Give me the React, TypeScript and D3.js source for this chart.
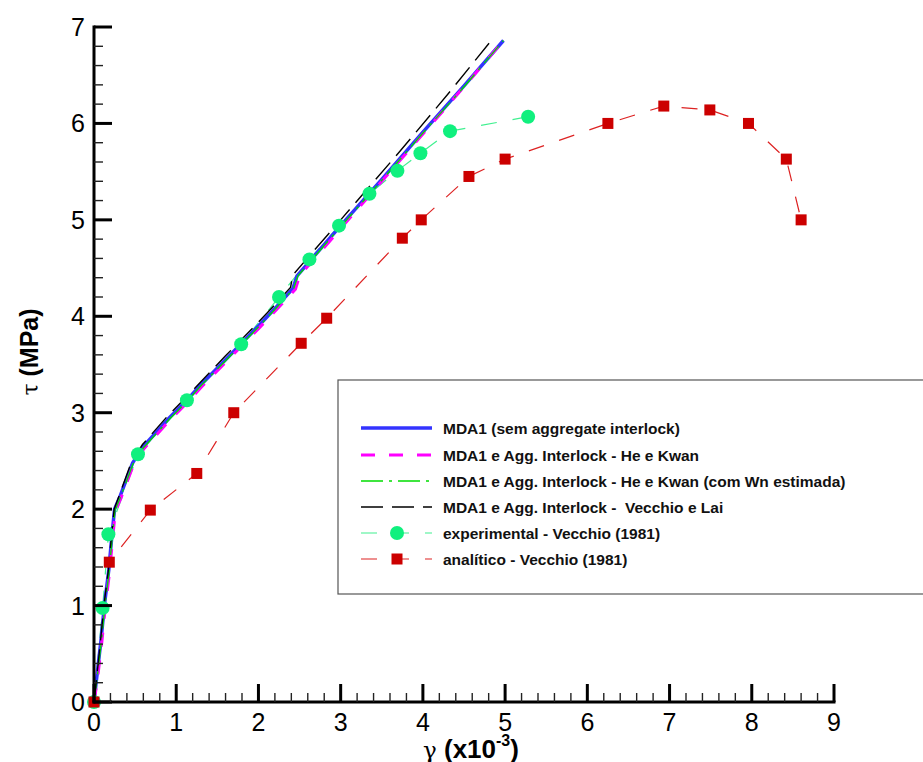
import React from "react";
import * as d3 from "d3";

// MDA1 (sem aggregate interlock)
const mdaX = [0, 0.03, 0.085, 0.13, 0.18, 0.215, 0.25, 0.32, 0.47, 0.6, 0.92, 1.13, 1.3, 1.6, 2.0, 2.2, 2.42, 2.47, 3.0, 3.5, 4.0, 4.5, 4.98];
const mdaY = [0, 0.23, 0.64, 1.03, 1.37, 1.7, 2.0, 2.14, 2.48, 2.65, 2.95, 3.13, 3.29, 3.55, 3.9, 4.08, 4.29, 4.42, 4.94, 5.42, 5.91, 6.39, 6.86];
// MDA1 e Agg. Interlock - He e Kwan
const hkX = [0, 0.04, 0.095, 0.14, 0.19, 0.225, 0.26, 0.33, 0.48, 0.61, 0.93, 1.14, 1.31, 1.61, 2.01, 2.21, 2.45, 2.5, 3.0, 3.5, 4.0, 4.5, 4.98];
const hkY = [0, 0.22, 0.62, 1.0, 1.35, 1.68, 1.98, 2.12, 2.46, 2.63, 2.93, 3.11, 3.27, 3.53, 3.88, 4.06, 4.28, 4.42, 4.91, 5.4, 5.89, 6.38, 6.86];
// MDA1 e Agg. Interlock - He e Kwan (com Wn estimada)
const hkwX = [0, 0.035, 0.09, 0.135, 0.185, 0.22, 0.255, 0.325, 0.475, 0.605, 0.925, 1.135, 1.3, 1.6, 2.0, 2.2, 2.43, 2.48, 3.0, 3.5, 4.0, 4.5, 4.98];
const hkwY = [0, 0.23, 0.63, 1.02, 1.36, 1.69, 1.99, 2.13, 2.47, 2.64, 2.94, 3.12, 3.28, 3.54, 3.89, 4.07, 4.29, 4.42, 4.93, 5.41, 5.9, 6.38, 6.86];
// MDA1 e Agg. Interlock - Vecchio e Lai
const vlX = [0, 0.03, 0.08, 0.125, 0.175, 0.21, 0.245, 0.31, 0.46, 0.59, 0.9, 1.12, 1.3, 1.6, 2.0, 2.2, 2.39, 2.42, 3.0, 3.7, 4.3, 4.87];
const vlY = [0, 0.23, 0.64, 1.03, 1.37, 1.7, 2.0, 2.15, 2.5, 2.67, 2.97, 3.16, 3.32, 3.59, 3.94, 4.12, 4.3, 4.43, 5.0, 5.69, 6.3, 6.9];
// experimental - Vecchio (1981)
const expX = [0, 0.105, 0.175, 0.535, 1.13, 1.79, 2.25, 2.62, 2.98, 3.35, 3.69, 3.97, 4.33, 5.28];
const expY = [0, 0.975, 1.74, 2.57, 3.13, 3.71, 4.2, 4.59, 4.94, 5.27, 5.51, 5.69, 5.92, 6.07];
// analítico - Vecchio (1981)
const anX = [0, 0.186, 0.685, 1.25, 1.7, 2.52, 2.83, 3.75, 3.98, 4.56, 5.0, 6.25, 6.93, 7.49, 7.96, 8.42, 8.6];
const anY = [0, 1.45, 1.99, 2.37, 3.0, 3.72, 3.98, 4.81, 5.0, 5.45, 5.63, 6.0, 6.18, 6.14, 6.0, 5.63, 5.0];

const xTicks = [0, 1, 2, 3, 4, 5, 6, 7, 8, 9];
const yTicks = [0, 1, 2, 3, 4, 5, 6, 7];
const legendLabels = [
  "MDA1 (sem aggregate interlock)",
  "MDA1 e Agg. Interlock - He e Kwan",
  "MDA1 e Agg. Interlock - He e Kwan (com Wn estimada)",
  "MDA1 e Agg. Interlock -  Vecchio e Lai",
  "experimental - Vecchio (1981)",
  "analítico - Vecchio (1981)",
];

const FONT = "'Liberation Sans', Arial, sans-serif";

export default function App() {
  const x = d3.scaleLinear().domain([0, 9]).range([94, 834]);
  const y = d3.scaleLinear().domain([0, 7]).range([702, 27]);
  const line = d3
    .line<[number, number]>()
    .x((d) => x(d[0]))
    .y((d) => y(d[1]));
  const pts = (xs: number[], ys: number[]) => xs.map((v, i) => [v, ys[i]] as [number, number]);

  const xMinor = d3.range(0, 9.001, 0.2).filter((v) => Math.abs(v - Math.round(v)) > 0.01);
  const yMinor = d3.range(0, 7.001, 0.2).filter((v) => Math.abs(v - Math.round(v)) > 0.01);

  const styles = [
    { stroke: "#3333ff", width: 3.5, dash: "" },
    { stroke: "#ff00ff", width: 3, dash: "14 14" },
    { stroke: "#00dd00", width: 1.4, dash: "22 6 3 6" },
    { stroke: "#000000", width: 1.4, dash: "22 9" },
    { stroke: "#40f090", width: 1.2, dash: "16 16" },
    { stroke: "#dd2222", width: 1.2, dash: "16 16" },
  ];

  const legX = 338;
  const legY = 380;
  const rowY = [428, 455, 481, 507, 533, 559];

  return (
    <svg
      width={923}
      height={762}
      style={{ position: "absolute", left: 0, top: 0, background: "#fff" }}
      fontFamily={FONT}
    >
      <rect x={0} y={0} width={923} height={762} fill="#fff" />

      {/* data lines */}
      <path d={line(pts(anX, anY)) || ""} fill="none" stroke={styles[5].stroke} strokeWidth={styles[5].width} strokeDasharray={styles[5].dash} />
      <path d={line(pts(expX, expY)) || ""} fill="none" stroke={styles[4].stroke} strokeWidth={styles[4].width} strokeDasharray={styles[4].dash} />
      <path d={line(pts(mdaX, mdaY)) || ""} fill="none" stroke={styles[0].stroke} strokeWidth={styles[0].width} strokeLinejoin="round" />
      <path d={line(pts(hkX, hkY)) || ""} fill="none" stroke={styles[1].stroke} strokeWidth={styles[1].width} strokeDasharray={styles[1].dash} />
      <path d={line(pts(hkwX, hkwY)) || ""} fill="none" stroke={styles[2].stroke} strokeWidth={styles[2].width} strokeDasharray={styles[2].dash} />
      <path d={line(pts(vlX, vlY)) || ""} fill="none" stroke={styles[3].stroke} strokeWidth={styles[3].width} strokeDasharray={styles[3].dash} />

      {/* markers */}
      {expX.map((v, i) => (
        <circle key={"e" + i} cx={x(v)} cy={y(expY[i])} r={7} fill="#10f07e" />
      ))}
      {anX.map((v, i) => (
        <rect key={"a" + i} x={x(v) - 5.5} y={y(anY[i]) - 5.5} width={11} height={11} fill="#cc0000" />
      ))}

      {/* axes */}
      <line x1={x(0)} x2={x(0)} y1={y(7) - 1.5} y2={y(0) + 1.5} stroke="#000" strokeWidth={3} />
      <line x1={x(0) - 1.5} x2={x(9) + 1.5} y1={y(0)} y2={y(0)} stroke="#000" strokeWidth={3} />
      {yTicks.map((t) => (
        <g key={"yt" + t}>
          <line x1={x(0)} x2={x(0) + 18} y1={y(t)} y2={y(t)} stroke="#000" strokeWidth={3} />
          <text x={85} y={y(t)} dy="0.36em" textAnchor="end" fontSize={25}>
            {t}
          </text>
        </g>
      ))}
      {yMinor.map((t, i) => (
        <line key={"ym" + i} x1={x(0)} x2={x(0) + 9} y1={y(t)} y2={y(t)} stroke="#222" strokeWidth={1.4} />
      ))}
      {xTicks.map((t) => (
        <g key={"xt" + t}>
          <line x1={x(t)} x2={x(t)} y1={y(0)} y2={y(0) - 18} stroke="#000" strokeWidth={3} />
          <text x={x(t)} y={731} textAnchor="middle" fontSize={25}>
            {t}
          </text>
        </g>
      ))}
      {xMinor.map((t, i) => (
        <line key={"xm" + i} x1={x(t)} x2={x(t)} y1={y(0)} y2={y(0) - 9} stroke="#222" strokeWidth={1.4} />
      ))}

      {/* axis titles */}
      <text transform="translate(38,352) rotate(-90)" textAnchor="middle" fontSize={25}>
        <tspan fontFamily="'DejaVu Serif', serif" fontSize={22}>τ</tspan>
        <tspan fontWeight="bold"> (MPa)</tspan>
      </text>
      <text x={423} y={758} fontSize={26}>
        <tspan fontFamily="'DejaVu Serif', serif" fontSize={23}>γ</tspan>
        <tspan fontWeight="bold"> (x10</tspan>
        <tspan fontWeight="bold" fontSize={16} dy={-12}>-3</tspan>
        <tspan fontWeight="bold" dy={12}>)</tspan>
      </text>

      {/* legend */}
      <rect x={legX} y={legY} width={620} height={214} fill="#fff" stroke="#555" strokeWidth={1.2} />
      {legendLabels.map((lab, i) => (
        <g key={"lg" + i}>
          <line
            x1={361}
            x2={432}
            y1={rowY[i]}
            y2={rowY[i]}
            stroke={styles[i].stroke}
            strokeWidth={styles[i].width}
            strokeDasharray={styles[i].dash}
          />
          {i === 4 && <circle cx={397} cy={rowY[i]} r={7} fill="#10f07e" />}
          {i === 5 && <rect x={391.5} y={rowY[i] - 5.5} width={11} height={11} fill="#cc0000" />}
          <text
            x={443}
            y={rowY[i]}
            dy="0.36em"
            fontSize={15.5}
            fontWeight="bold"
            fill="#111"
            style={{ whiteSpace: "pre" }}
          >
            {lab}
          </text>
        </g>
      ))}
    </svg>
  );
}
